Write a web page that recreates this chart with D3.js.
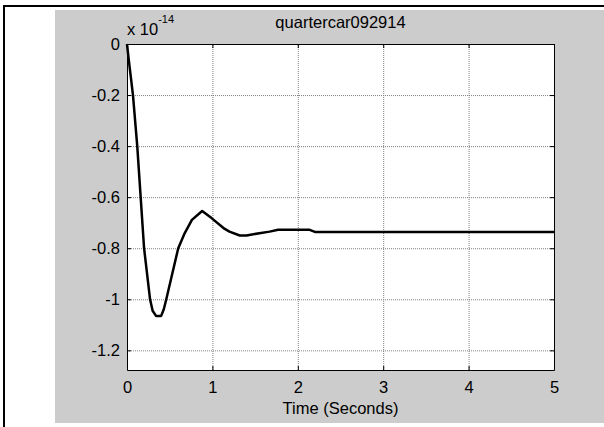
<!DOCTYPE html>
<head>
    <script src="https://d3js.org/d3.v7.min.js"></script>
    <style>
        body {margin: 0; background: #fff;}
        text {font-family: "Liberation Sans", Arial, sans-serif; fill: #000;}
        .grid line {stroke: #808080; stroke-dasharray: 1,1;}
        .grid path {display: none;}
        .axis path, .axis line {stroke: #000;}
    </style>
</head>
<body>
</body>
<script>
  // response in units of 1e-14
  const timeSec = [0, 0.02, 0.07, 0.12, 0.16, 0.2, 0.27, 0.3, 0.34, 0.4, 0.43, 0.46, 0.6, 0.67,
                   0.76, 0.88, 0.99, 1.13, 1.2, 1.32, 1.4, 1.55, 1.67, 1.77, 2.14, 2.2, 5];
  const response = [0, -0.06, -0.2, -0.4, -0.6, -0.8, -1.0, -1.045, -1.065, -1.065, -1.04, -1.0, -0.8, -0.745,
                    -0.689, -0.654, -0.682, -0.721, -0.735, -0.75, -0.75, -0.741, -0.735, -0.728, -0.728, -0.736, -0.736];
  const xTicks = [0, 1, 2, 3, 4, 5];
  const yTicks = [0, -0.2, -0.4, -0.6, -0.8, -1, -1.2];
  const title = "quartercar092914";
  const xLabel = "Time (Seconds)";

  const width = 604, height = 427,
        pLeft = 127, pRight = 554, pTop = 44, pBottom = 370;

  const x = d3.scaleLinear().domain([0, 5]).range([pLeft, pRight]);
  const y = d3.scaleLinear().domain([-1.277, 0]).range([pBottom, pTop]);

  const svg = d3.select("body").append("svg")
          .attr("width", width)
          .attr("height", height);

  // figure frame
  svg.append("rect").attr("x", 0).attr("y", 0).attr("width", width).attr("height", height).attr("fill", "#fff");
  svg.append("line").attr("x1", 3).attr("x2", width).attr("y1", 6).attr("y2", 6)
      .attr("stroke", "#000").attr("stroke-width", 2);
  svg.append("line").attr("x1", 4).attr("x2", 4).attr("y1", 5).attr("y2", height)
      .attr("stroke", "#000").attr("stroke-width", 2);
  svg.append("rect").attr("x", 55).attr("y", 10).attr("width", width - 55).attr("height", 413)
      .attr("fill", "#cccccc");

  svg.append("rect").attr("x", pLeft).attr("y", pTop)
      .attr("width", pRight - pLeft).attr("height", pBottom - pTop).attr("fill", "#fff");

  // grid
  svg.append("g").attr("class", "grid")
      .attr("transform", `translate(0,${pBottom})`)
      .call(d3.axisBottom(x).tickValues(xTicks.slice(1, -1)).tickSize(-(pBottom - pTop)).tickFormat(""));
  svg.append("g").attr("class", "grid")
      .attr("transform", `translate(${pLeft},0)`)
      .call(d3.axisLeft(y).tickValues(yTicks.slice(1)).tickSize(-(pRight - pLeft)).tickFormat(""));

  const fmt = d => d === 0 ? "0" : String(+d.toFixed(1));

  // axes with inward ticks
  svg.append("g").attr("class", "axis")
      .attr("transform", `translate(0,${pBottom})`)
      .call(d3.axisBottom(x).tickValues(xTicks).tickSizeInner(-4).tickSizeOuter(0).tickPadding(11).tickFormat(fmt))
      .call(g => g.selectAll("text").attr("font-size", 16.5));
  svg.append("g").attr("class", "axis")
      .attr("transform", `translate(0,${pTop})`)
      .call(d3.axisTop(x).tickValues(xTicks).tickSizeInner(-4).tickSizeOuter(0).tickFormat(""));
  svg.append("g").attr("class", "axis")
      .attr("transform", `translate(${pLeft},0)`)
      .call(d3.axisLeft(y).tickValues(yTicks).tickSizeInner(-4).tickSizeOuter(0).tickPadding(7).tickFormat(fmt))
      .call(g => g.selectAll("text").attr("font-size", 16.5));
  svg.append("g").attr("class", "axis")
      .attr("transform", `translate(${pRight},0)`)
      .call(d3.axisRight(y).tickValues(yTicks).tickSizeInner(-4).tickSizeOuter(0).tickFormat(""));

  // data line
  const line = d3.line().x((d, i) => x(timeSec[i])).y(d => y(d));
  svg.append("path")
      .datum(response)
      .attr("d", line)
      .attr("fill", "none")
      .attr("stroke", "#000")
      .attr("stroke-width", 2.5)
      .attr("stroke-linejoin", "round");

  // texts
  svg.append("text").attr("x", (pLeft + pRight) / 2).attr("y", 28)
      .attr("text-anchor", "middle").attr("font-size", 16.5).text(title);
  svg.append("text").attr("x", (pLeft + pRight) / 2).attr("y", 414)
      .attr("text-anchor", "middle").attr("font-size", 16.5).text(xLabel);
  const mult = svg.append("text").attr("x", 127).attr("y", 35).attr("font-size", 16.5);
  mult.append("tspan").text("x 10");
  mult.append("tspan").attr("dy", -12).attr("font-size", 11).text("-14");
</script>
